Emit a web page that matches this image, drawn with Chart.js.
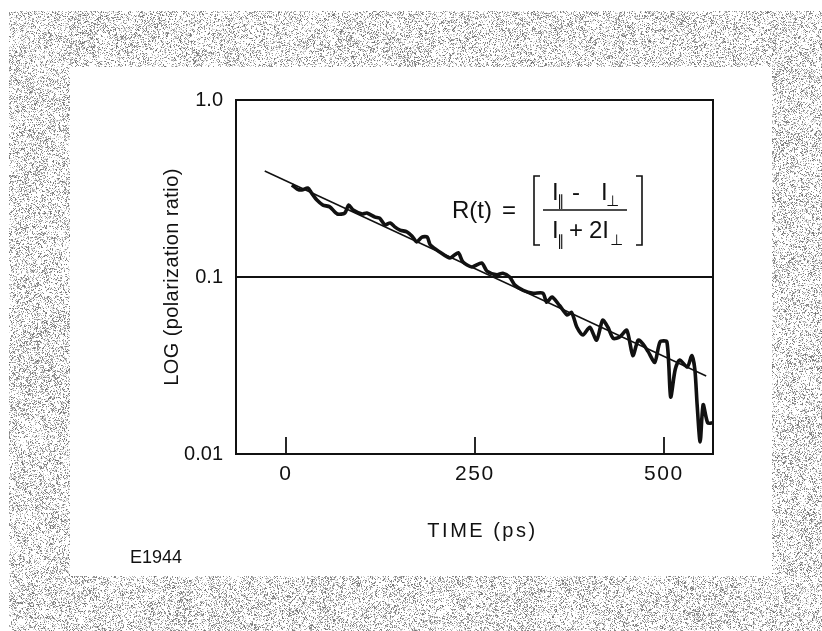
<!DOCTYPE html>
<html>
<head>
<meta charset="utf-8">
<script src="https://cdn.jsdelivr.net/npm/chart.js@4.4.1/dist/chart.umd.min.js"></script>
<style>
  html, body { margin: 0; padding: 0; background: #fff; }
  #wrap { width: 822px; height: 631px; position: relative; }
  canvas { display: block; }
</style>
</head>
<body>
<div id="wrap"><canvas id="c" width="822" height="631"></canvas></div>
<script>
// ---- data ----
const dataTimes = [8,15,21,29,34,41,49,58,68,78,83,89,101,107,118,124,131,138,144,151,160,167,173,180,187,191,204,217,228,234,246,259,266,279,287,296,303,314,327,340,345,352,362,372,378,385,393,402,411,419,426,433,442,451,459,466,472,479,488,495,504,509,515,521,531,537,541,544,548,552,558,565];
const dataRatios = [0.331,0.314,0.310,0.318,0.298,0.272,0.255,0.249,0.227,0.230,0.255,0.239,0.227,0.230,0.218,0.215,0.197,0.202,0.192,0.184,0.180,0.170,0.158,0.168,0.168,0.152,0.138,0.128,0.137,0.122,0.114,0.120,0.108,0.103,0.105,0.100,0.090,0.084,0.081,0.081,0.072,0.077,0.069,0.061,0.063,0.052,0.047,0.052,0.044,0.057,0.052,0.045,0.046,0.050,0.036,0.044,0.042,0.038,0.033,0.043,0.043,0.021,0.030,0.034,0.031,0.036,0.030,0.019,0.0117,0.019,0.015,0.015];
const fitTimes = [-28, 556];
const fitRatios = [0.397, 0.0276];
const xTickValues = [0, 250, 500];
const xTickLabels = ["0", "250", "500"];
const yTickValues = [0.01, 0.1, 1];
const yTickLabels = ["0.01", "0.1", "1.0"];
const xTitle = "TIME (ps)";
const yTitle = "LOG (polarization ratio)";
const figureId = "E1944";

const FONT = '"Liberation Sans", Arial, Helvetica, sans-serif';
Chart.defaults.font.family = FONT;
Chart.defaults.color = '#111';

function toPoints(xs, ys) { return xs.map((x, i) => ({x: x, y: ys[i]})); }

// deterministic hash for the halftone texture of the page
function hash(x, y) {
  let h = (Math.imul(x, 374761393) + Math.imul(y, 668265263)) | 0;
  h = Math.imul(h ^ (h >>> 13), 1274126177);
  h = h ^ (h >>> 16);
  return (h >>> 0) / 4294967296;
}

const backgroundPlugin = {
  id: 'pageBackground',
  beforeDraw(chart) {
    const ctx = chart.ctx;
    const W = chart.width, H = chart.height;
    const img = ctx.createImageData(W, H);
    const d = img.data;
    for (let y = 0; y < H; y++) {
      for (let x = 0; x < W; x++) {
        const i = (y * W + x) * 4;
        let v = 255;
        const inside = x >= 70 && x < 772 && y >= 67 && y < 576;
        const outer = x >= 9 && y >= 11;
        if (outer && !inside) {
          const blk = hash(x >> 2, (y >> 2) + 9999);
          const blk2 = hash((x >> 4) + 555, (y >> 4) + 77);
          const p = 0.12 + 0.14 * blk + 0.12 * blk2;
          const r = hash(x, y);
          if (r < p) v = 110 + Math.floor(80 * hash(y + 17, x + 3));
          else if (r < p + 0.10) v = 215;
        }
        d[i] = v; d[i + 1] = v; d[i + 2] = v; d[i + 3] = 255;
      }
    }
    ctx.putImageData(img, 0, 0);
  }
};

const textSpacingPlugin = {
  id: 'textSpacing',
  afterLayout(chart) {
    const xs = chart.scales.x, ys = chart.scales.y;
    if (!xs._spacingWrapped) {
      xs._spacingWrapped = true;
      const ot = xs.drawTitle.bind(xs);
      xs.drawTitle = function () {
        const c = this.ctx; c.save(); c.letterSpacing = '2.5px'; c.translate(8, 0); ot(); c.restore();
      };
      const ol = xs.drawLabels.bind(xs);
      xs.drawLabels = function (a) {
        const c = this.ctx; c.save(); c.letterSpacing = '1.5px'; ol(a); c.restore();
      };
    }
    if (!ys._spacingWrapped) {
      ys._spacingWrapped = true;
      const oty = ys.drawTitle.bind(ys);
      ys.drawTitle = function () {
        const c = this.ctx; c.save(); c.letterSpacing = '0.4px'; oty(); c.restore();
      };
    }
  }
};

const framePlugin = {
  id: 'frameAndTicks',
  afterDatasetsDraw(chart) {
    const ctx = chart.ctx;
    const a = chart.chartArea;
    const xs = chart.scales.x;
    ctx.save();
    ctx.strokeStyle = '#111';
    ctx.lineWidth = 2;
    ctx.strokeRect(a.left, a.top, a.right - a.left, a.bottom - a.top);
    // inward tick marks on the time axis
    ctx.lineWidth = 1.8;
    xs.ticks.forEach(t => {
      const px = Math.round(xs.getPixelForValue(t.value));
      ctx.beginPath();
      ctx.moveTo(px, a.bottom);
      ctx.lineTo(px, a.bottom - 17);
      ctx.stroke();
    });
    ctx.restore();
  },
  afterDraw(chart) {
    const ctx = chart.ctx;
    ctx.save();
    ctx.fillStyle = '#111';
    ctx.strokeStyle = '#111';
    ctx.textBaseline = 'alphabetic';
    // figure id
    ctx.font = '18px ' + FONT;
    ctx.fillText(figureId, 130, 563);
    // formula R(t) = [ (I|| - I⊥) / (I|| + 2I⊥) ]
    const big = '24px ' + FONT;
    const sub = '15px "DejaVu Sans", ' + FONT;
    ctx.font = big;
    ctx.fillText('R(t)', 452, 218);
    ctx.fillText('=', 502, 218);
    // numerator
    ctx.fillText('I', 552, 200);
    ctx.font = sub; ctx.fillText('\u2225', 557, 206);
    ctx.font = big; ctx.fillText('-', 572, 200);
    ctx.fillText('I', 601, 200);
    ctx.font = sub; ctx.fillText('\u22A5', 606, 206);
    // denominator
    ctx.font = big;
    ctx.fillText('I', 552, 238);
    ctx.font = sub; ctx.fillText('\u2225', 557, 246);
    ctx.font = big; ctx.fillText('+', 569, 238);
    ctx.fillText('2I', 589, 238);
    ctx.font = sub; ctx.fillText('\u22A5', 610, 245);
    // fraction bar and brackets
    ctx.lineWidth = 1.6;
    ctx.beginPath(); ctx.moveTo(543, 210); ctx.lineTo(627, 210); ctx.stroke();
    ctx.beginPath();
    ctx.moveTo(540, 176); ctx.lineTo(534, 176); ctx.lineTo(534, 245); ctx.lineTo(540, 245);
    ctx.stroke();
    ctx.beginPath();
    ctx.moveTo(636, 176); ctx.lineTo(642, 176); ctx.lineTo(642, 245); ctx.lineTo(636, 245);
    ctx.stroke();
    ctx.restore();
  }
};

new Chart(document.getElementById('c'), {
  type: 'line',
  data: {
    datasets: [
      {
        label: 'measured',
        data: toPoints(dataTimes, dataRatios),
        borderColor: '#111',
        borderWidth: 3.6,
        pointRadius: 0,
        tension: 0.25,
        fill: false
      },
      {
        label: 'fit',
        data: toPoints(fitTimes, fitRatios),
        borderColor: '#111',
        borderWidth: 1.5,
        pointRadius: 0,
        tension: 0,
        fill: false
      }
    ]
  },
  options: {
    responsive: false,
    animation: false,
    events: [],
    layout: { padding: { left: 156, top: 100, right: 109, bottom: 87 } },
    plugins: { legend: { display: false }, tooltip: { enabled: false } },
    scales: {
      x: {
        type: 'linear',
        min: -66,
        max: 565,
        afterBuildTicks(scale) { scale.ticks = xTickValues.map(v => ({value: v})); },
        afterFit(scale) { scale.height = 90; },
        grid: { display: false, drawTicks: false },
        border: { display: false },
        ticks: {
          padding: 8,
          font: { size: 21 },
          color: '#111',
          maxRotation: 0,
          callback: (v) => { const i = xTickValues.indexOf(v); return i >= 0 ? xTickLabels[i] : ''; }
        },
        title: { display: true, text: xTitle, font: { size: 20 }, color: '#111', padding: { top: 0, bottom: 1 } }
      },
      y: {
        type: 'logarithmic',
        min: 0.01,
        max: 1,
        afterBuildTicks(scale) { scale.ticks = yTickValues.map(v => ({value: v})); },
        afterFit(scale) { scale.width = 80; },
        grid: { display: true, color: '#111', lineWidth: 2, drawTicks: false },
        border: { display: false },
        ticks: {
          padding: 13,
          font: { size: 20 },
          color: '#111',
          callback: (v) => { const i = yTickValues.indexOf(v); return i >= 0 ? yTickLabels[i] : ''; }
        },
        title: { display: true, text: yTitle, font: { size: 20 }, color: '#111', padding: { top: 4, bottom: 0 } }
      }
    }
  },
  plugins: [backgroundPlugin, textSpacingPlugin, framePlugin]
});
</script>
</body>
</html>
